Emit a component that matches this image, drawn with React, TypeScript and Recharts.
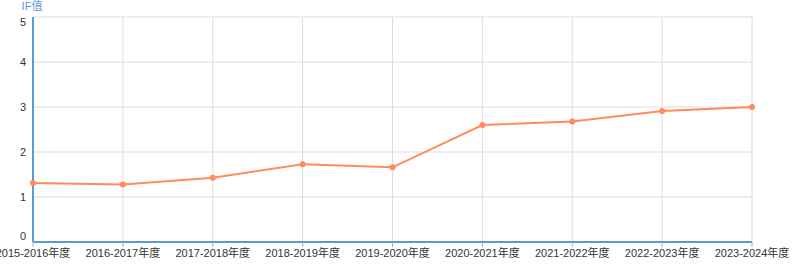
import { LineChart, Line, XAxis, YAxis, CartesianGrid } from 'recharts';

const years = [
  '2015-2016年度',
  '2016-2017年度',
  '2017-2018年度',
  '2018-2019年度',
  '2019-2020年度',
  '2020-2021年度',
  '2021-2022年度',
  '2022-2023年度',
  '2023-2024年度',
];
const ifValues = [1.31, 1.28, 1.43, 1.73, 1.66, 2.6, 2.68, 2.91, 3.0];
const yTicks = [0, 1, 2, 3, 4, 5];

const data = years.map((year, i) => ({ year, value: ifValues[i] }));

const font = '"Liberation Sans", Arial, "Noto Sans CJK SC", sans-serif';

const AxisTitle = (props: any) => {
  const { viewBox } = props;
  return (
    <text
      x={viewBox.x + viewBox.width - 1}
      y={viewBox.y - 7}
      textAnchor="middle"
      fill="#5b9bd5"
      fontSize={11}
      fontFamily={font}
    >
      IF值
    </text>
  );
};

// edge labels sit inside the plot like the original
const YTick = (props: any) => {
  const { x, y, payload } = props;
  let shift = 0;
  if (payload.value === 0) shift = -6;
  if (payload.value === 5) shift = 5;
  return (
    <text
      x={x}
      y={y + shift}
      dy="0.355em"
      textAnchor="end"
      fill="#333"
      fontSize={11}
      fontFamily={font}
    >
      {payload.value}
    </text>
  );
};

export default function App() {
  return (
    <div style={{ position: 'absolute', left: 0, top: 0, width: 793, height: 269, background: '#fff' }}>
      <LineChart
        width={793}
        height={269}
        data={data}
        margin={{ top: 17, right: 41, left: 8, bottom: 7 }}
      >
        <CartesianGrid stroke="#dcdcdc" strokeWidth={1} />
        <XAxis
          dataKey="year"
          interval={0}
          height={20}
          stroke="#5b9bd5"
          strokeWidth={2}
          tickSize={5}
          tick={{ fill: '#333', fontSize: 11, fontFamily: font }}
          tickLine={{ stroke: '#aaa', strokeWidth: 1 }}
        />
        <YAxis
          domain={[0, 5]}
          ticks={yTicks}
          width={25}
          stroke="#5b9bd5"
          strokeWidth={2}
          tickLine={false}
          tickMargin={1}
          tick={<YTick />}
          label={<AxisTitle />}
        />
        <Line
          type="linear"
          dataKey="value"
          stroke="#ff8c5a"
          strokeWidth={2}
          dot={{ r: 3, fill: '#ff8c5a', stroke: '#ff8c5a', strokeWidth: 0 }}
          isAnimationActive={false}
        />
      </LineChart>
    </div>
  );
}
